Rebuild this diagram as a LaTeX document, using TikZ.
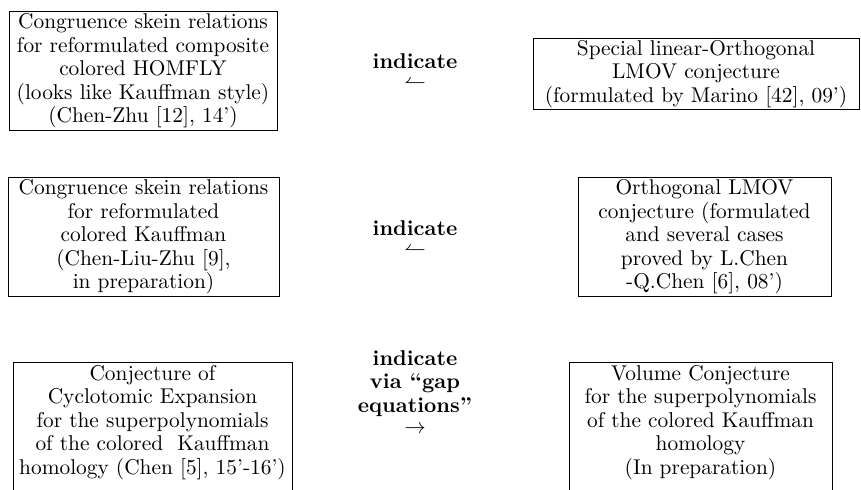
\documentclass[tikz,border=0pt]{standalone}
\usepackage{amsmath,amssymb}
\usepackage{tikz}
\tikzset{conj/.style={rectangle,draw,align=center,inner xsep=0pt,inner ysep=1pt,font=\fontsize{10.9pt}{12pt}\selectfont},
  lbl/.style={align=center,font=\fontsize{10.9pt}{12pt}\selectfont\bfseries,inner sep=0pt}}

\begin{document}
\begin{tikzpicture}[x=0.51pt,y=-0.51pt]
        \useasboundingbox (0,0) rectangle (861,490);
        \clip (0,0) rectangle (861,490);

        \node[conj,minimum width=136.7pt,minimum height=60.2pt] (homfly) at (143,71) {Congruence skein relations\\for reformulated composite\\colored HOMFLY\\(looks like Kauffman style)\\(Chen-Zhu [12], 14')};
        \node[conj,minimum width=166.3pt,minimum height=34.7pt] (solmov) at (696,74) {Special linear-Orthogonal\\LMOV conjecture\\(formulated by Marino [42], 09')};
        \node[conj,minimum width=138.2pt,minimum height=59.2pt] (kauff) at (143.5,237) {Congruence skein relations\\for reformulated\\colored Kauffman\\(Chen-Liu-Zhu [9],\\in preparation)};
        \node[conj,minimum width=129pt,minimum height=59.2pt] (olmov) at (704.5,237) {Orthogonal LMOV\\conjecture (formulated\\and several cases\\proved by L.Chen\\-Q.Chen [6], 08')};
        \node[conj,anchor=north,minimum width=142.3pt,inner ysep=1.5pt,text depth=20pt] (cyclo) at (152.5,362) {Conjecture of\\Cyclotomic Expansion\\for the superpolynomials\\of the colored \ Kauffman\\homology (Chen [5], 15'-16')};
        \node[conj,anchor=north,minimum width=134.1pt,inner ysep=1.5pt,text depth=20pt] (volume) at (700.5,362) {Volume Conjecture\\for the superpolynomials\\of the colored Kauffman\\homology\\(In preparation)};

        \node[lbl] (ind1) at (415,71) {indicate\\[-2pt]$\leftharpoonup$};
        \node[lbl] (ind2) at (415,238) {indicate\\[-2pt]$\leftharpoonup$};
        \node[lbl] (ind3) at (415,392) {indicate\\via ``gap\\equations''\\[-1pt]$\rightarrow$};
    \end{tikzpicture}
\end{document}
